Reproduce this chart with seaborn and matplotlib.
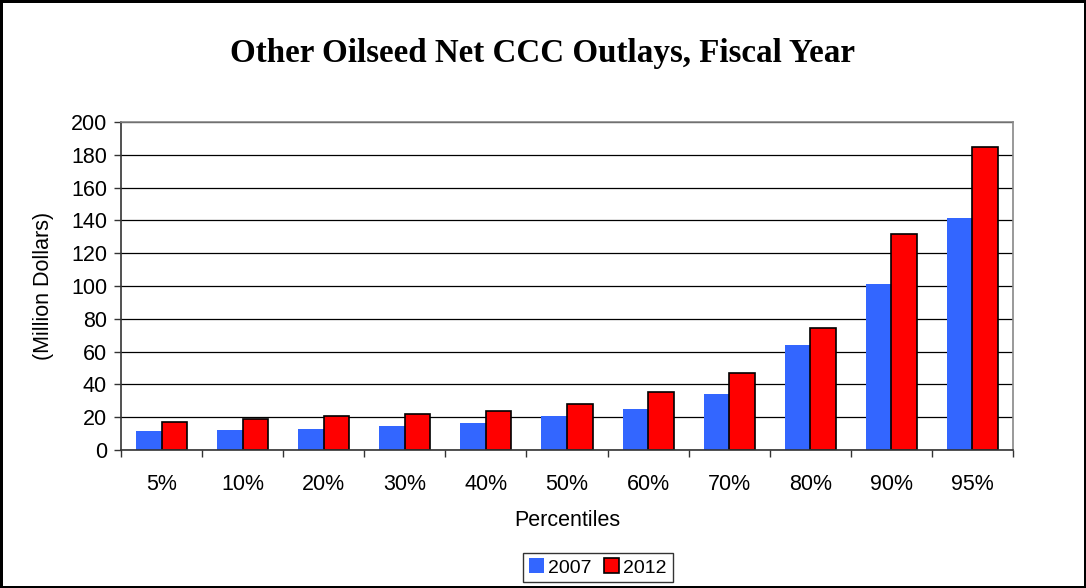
import pandas as pd
import numpy as np
import matplotlib.pyplot as plt
import seaborn as sns
from matplotlib.patches import Patch
from matplotlib.ticker import MultipleLocator

# Values (million dollars)
percentiles = ["5%", "10%", "20%", "30%", "40%", "50%", "60%", "70%", "80%", "90%", "95%"]
outlays_2007 = [11.4, 12.0, 13.0, 14.6, 16.4, 20.7, 25.0, 34.1, 64.2, 101.3, 141.3]
outlays_2012 = [17.3, 18.7, 20.5, 21.7, 23.9, 28.2, 35.5, 46.9, 74.1, 131.8, 184.8]
years = ["2007", "2012"]
colors = {"2007": "#3366FF", "2012": "#FF0000"}

df = pd.DataFrame({
    "Percentile": percentiles * 2,
    "Outlay": outlays_2007 + outlays_2012,
    "Year": [years[0]] * len(percentiles) + [years[1]] * len(percentiles),
})

sns.set_style("white")
plt.rcParams["font.family"] = ["Liberation Sans", "DejaVu Sans"]
plt.rcParams["text.color"] = "black"
plt.rcParams["xtick.color"] = "black"
plt.rcParams["ytick.color"] = "black"
plt.rcParams["axes.labelcolor"] = "black"

fig = plt.figure(figsize=(10.86, 5.88), dpi=100, linewidth=2.5, edgecolor="black")
ax = fig.add_axes([0.1114, 0.2347, 0.8214, 0.5578])

sns.barplot(data=df, x="Percentile", y="Outlay", hue="Year", order=percentiles,
            hue_order=years, palette=colors, width=0.63, saturation=1,
            linewidth=0, legend=False, ax=ax)

# black outline on the 2012 bars only
for bar in ax.containers[1]:
    bar.set_edgecolor("black")
    bar.set_linewidth(1.2)

ax.set_xlim(-0.5, len(percentiles) - 0.5)
ax.set_ylim(0, 200)
ax.yaxis.set_major_locator(MultipleLocator(20))
ax.grid(axis="y", color="black", linewidth=0.9)
ax.set_axisbelow(True)

# ticks between categories on x axis
ax.set_xticks(np.arange(-0.5, len(percentiles), 1.0), minor=True)
ax.tick_params(axis="x", which="major", length=0, labelsize=15.5, pad=17)
ax.tick_params(axis="x", which="minor", length=5, width=1, color="#333333", direction="out", bottom=True)
ax.tick_params(axis="y", which="major", length=5, width=1, color="#333333", direction="out", left=True,
               labelsize=15.5, labelcolor="black", pad=5)

for side in ["top", "right"]:
    ax.spines[side].set_color("#888888")
    ax.spines[side].set_linewidth(1.2)
for side in ["left", "bottom"]:
    ax.spines[side].set_color("#333333")
    ax.spines[side].set_linewidth(1.2)

ax.set_xlabel("Percentiles", fontsize=15.5, labelpad=11)
ax.set_ylabel("")
fig.text(0.0405, 0.5136, "(Million Dollars)", rotation=90, ha="center", va="center", fontsize=15.5)

fig.text(0.5, 0.895, "Other Oilseed Net CCC Outlays, Fiscal Year", ha="center", va="baseline",
         fontsize=23.8, fontweight="bold", family=["Liberation Serif", "DejaVu Serif"])

handles = [Patch(facecolor=colors["2007"], edgecolor="none"),
           Patch(facecolor=colors["2012"], edgecolor="black", linewidth=1.2)]
leg = fig.legend(handles, years, loc="center", bbox_to_anchor=(0.5506, 0.0349), ncol=2,
                 fontsize=14, frameon=True, fancybox=False, edgecolor="black",
                 handlelength=0.78, handleheight=0.78, handletextpad=0.2, columnspacing=0.65,
                 borderpad=0.3, borderaxespad=0)
leg.get_frame().set_linewidth(1.0)

fig.savefig("out.png", dpi=100, edgecolor=fig.get_edgecolor())
